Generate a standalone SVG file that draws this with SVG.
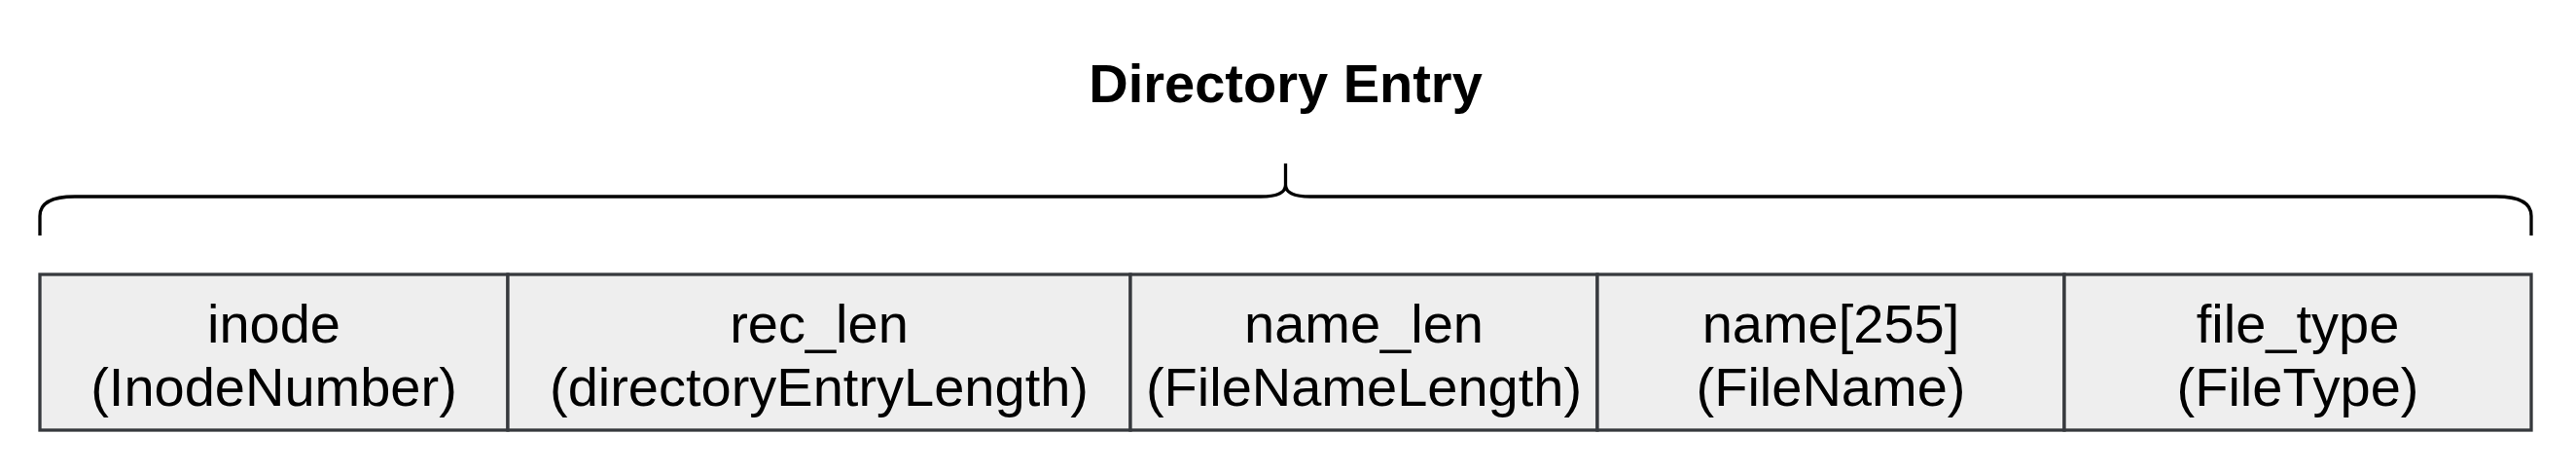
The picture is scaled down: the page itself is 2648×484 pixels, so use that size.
<svg xmlns="http://www.w3.org/2000/svg" width="2648" height="484" viewBox="0 0 2648 484">
<style>
.box{fill:#eeeeee;stroke:#36393d;stroke-width:3.3}
.lbl{font-family:"Liberation Sans",Arial,sans-serif;font-size:56px;fill:#000;text-anchor:middle}
.title{font-family:"Liberation Sans",Arial,sans-serif;font-size:56px;font-weight:bold;fill:#000;text-anchor:middle}
.brace{fill:none;stroke:#000;stroke-width:3.3}
</style>
<rect width="2648" height="484" fill="#ffffff"/>
<g id="title"><text class="title" x="1321.5" y="105">Directory Entry</text></g>
<g id="connectors">
<path class="brace" d="M41,242 V222 Q41,202 77,202 H1296 Q1321.5,202 1321.5,190 V168 M1321.5,190 Q1321.5,202 1347,202 H2566 Q2602,202 2602,222 V242"/>
</g>
<g id="node-inode"><rect class="box" x="41" y="282" width="481" height="160"/><text class="lbl" x="281.5" y="352">inode</text><text class="lbl" x="281.5" y="417">(InodeNumber)</text></g>
<g id="node-rec_len"><rect class="box" x="522" y="282" width="640" height="160"/><text class="lbl" x="842" y="352">rec_len</text><text class="lbl" x="842" y="417">(directoryEntryLength)</text></g>
<g id="node-name_len"><rect class="box" x="1162" y="282" width="480" height="160"/><text class="lbl" x="1402" y="352">name_len</text><text class="lbl" x="1402" y="417">(FileNameLength)</text></g>
<g id="node-name"><rect class="box" x="1642" y="282" width="480" height="160"/><text class="lbl" x="1882" y="352">name[255]</text><text class="lbl" x="1882" y="417">(FileName)</text></g>
<g id="node-file_type"><rect class="box" x="2122" y="282" width="480" height="160"/><text class="lbl" x="2362" y="352">file_type</text><text class="lbl" x="2362" y="417">(FileType)</text></g>
</svg>
